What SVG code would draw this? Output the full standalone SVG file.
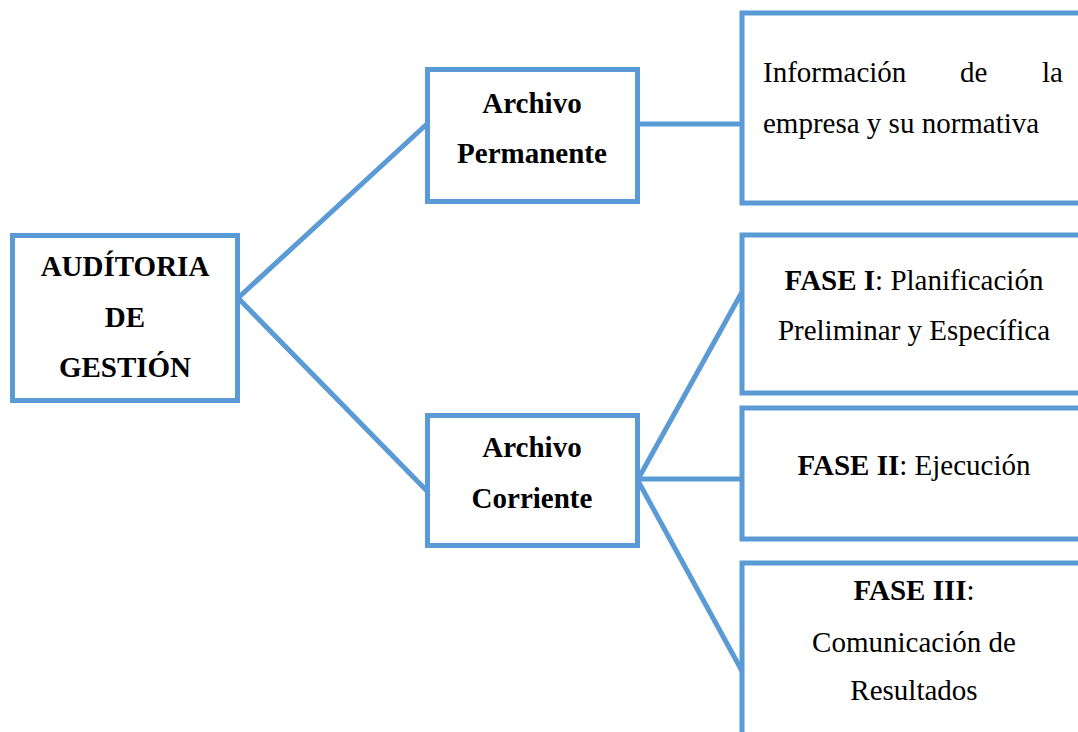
<svg xmlns="http://www.w3.org/2000/svg" width="1078" height="732" viewBox="0 0 1078 732">
<style>
.box{fill:#fff;stroke:#5B9BD5;stroke-width:5}
.ln{stroke:#5B9BD5;stroke-width:5;fill:none}
text{font-family:"Liberation Serif","Times New Roman",serif;font-size:29px;fill:#000}
.c{text-anchor:middle}
.b{font-weight:bold}
</style>
<rect width="1078" height="732" fill="#fff"/>
<g id="connectors">
<line class="ln" x1="238" y1="298" x2="428" y2="123"/>
<line class="ln" x1="238" y1="298" x2="428" y2="492"/>
<line class="ln" x1="637" y1="124" x2="742" y2="124"/>
<line class="ln" x1="637" y1="481" x2="742" y2="292"/>
<line class="ln" x1="637" y1="479" x2="742" y2="479"/>
<line class="ln" x1="637" y1="479" x2="742" y2="671"/>
</g>
<g id="auditoria">
<rect class="box" x="12.5" y="235.5" width="225" height="165"/>
<text class="c b" x="125" y="276">AUDÍTORIA</text>
<text class="c b" x="125" y="327">DE</text>
<text class="c b" x="125" y="377">GESTIÓN</text>
</g>
<g id="permanente">
<rect class="box" x="427.5" y="69.5" width="210" height="132"/>
<text class="c b" x="532" y="113">Archivo</text>
<text class="c b" x="532" y="163">Permanente</text>
</g>
<g id="corriente">
<rect class="box" x="427.5" y="415.5" width="210" height="130"/>
<text class="c b" x="532" y="457">Archivo</text>
<text class="c b" x="532" y="508">Corriente</text>
</g>
<g id="informacion">
<rect class="box" x="742" y="13" width="360" height="190"/>
<text x="763" y="82">Información</text>
<text x="960" y="82">de</text>
<text x="1063" y="82" text-anchor="end">la</text>
<text x="763" y="133">empresa y su normativa</text>
</g>
<g id="fase1">
<rect class="box" x="742" y="235" width="360" height="158"/>
<text class="c" x="914" y="290"><tspan class="b">FASE I</tspan>: Planificación</text>
<text class="c" x="914" y="340">Preliminar y Específica</text>
</g>
<g id="fase2">
<rect class="box" x="742" y="408" width="360" height="131"/>
<text class="c" x="914" y="475"><tspan class="b">FASE II</tspan>: Ejecución</text>
</g>
<g id="fase3">
<rect class="box" x="742" y="563" width="360" height="200"/>
<text class="c" x="914" y="600"><tspan class="b">FASE III</tspan>:</text>
<text class="c" x="914" y="652">Comunicación de</text>
<text class="c" x="914" y="700">Resultados</text>
</g>
</svg>
